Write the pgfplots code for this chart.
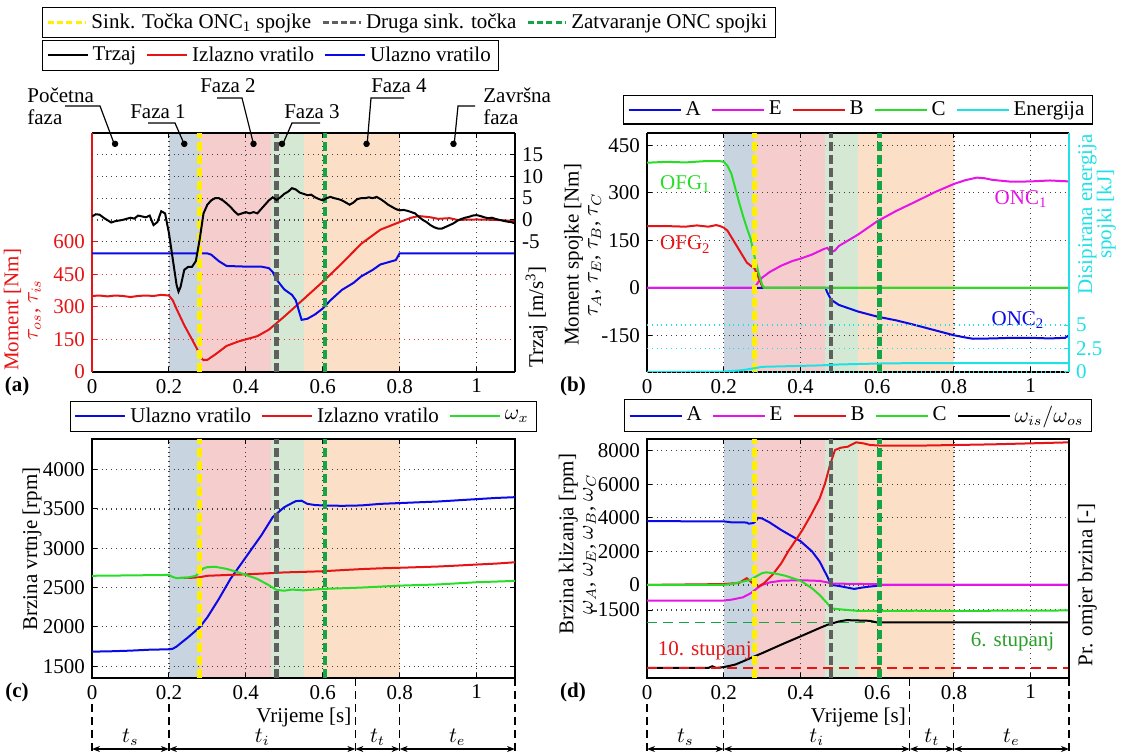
\documentclass[border=0pt]{standalone}
\usepackage{fontspec}
\setmainfont{Liberation Serif}
\usepackage{pgfplots}
\pgfplotsset{compat=1.18}
\usetikzlibrary{arrows.meta}

\definecolor{cBlue}{RGB}{10,10,230}
\definecolor{cRed}{RGB}{230,20,20}
\definecolor{cGreen}{RGB}{40,220,40}
\definecolor{cMag}{RGB}{230,20,230}
\definecolor{cCyan}{RGB}{30,225,230}
\definecolor{cYel}{RGB}{255,240,0}
\definecolor{cGray}{RGB}{95,95,95}
\definecolor{cDGreen}{RGB}{20,165,70}
\definecolor{cTGreen}{RGB}{40,160,40}
\definecolor{ph1}{RGB}{200,213,225}
\definecolor{ph2}{RGB}{245,205,205}
\definecolor{ph3}{RGB}{212,232,212}
\definecolor{ph4}{RGB}{251,224,199}

\newcommand\ff{\fontsize{10.5}{12}\selectfont}
\newcommand\fft{\fontsize{10.5}{9.6}\selectfont}

\pgfplotsset{
  panel/.style={
    scale only axis, xmin=0, xmax=1.1,
    xtick={0,0.2,0.4,0.6,0.8,1},
    scaled ticks=false,
    /pgf/number format/1000 sep={},
    /pgf/number format/assume math mode=true,
    font=\ff,
    tick label style={font=\ff},
    label style={font=\ff},
    tick align=inside, major tick length=2.5pt,
    tick style={black, line width=0.5pt},
    xmajorgrids, ymajorgrids,
    grid style={dotted, line width=0.6pt},
    x grid style={black!75},
    y grid style={black!75},
    axis line style={line width=0.6pt},
    legend columns=-1,
    legend style={draw=black, line width=0.6pt, font=\ff, inner xsep=2pt, inner ysep=1pt,
      /tikz/every even column/.append style={column sep=3pt}},
    legend cell align=left,
  },
  bgpanel/.style={scale only axis, xmin=0, xmax=1.1, hide axis},
  dl/.style={line width=1pt},
  vl/.style={line width=2.2pt, dash pattern=on 4.5pt off 2pt},
  limg/.style={legend image code/.code={\draw[##1, line width=1pt] (0pt,0pt) -- (#1,0pt);}},
  lyl/.style 2 args={ylabel style={at={(axis description cs:#1,#2)}, anchor=south, inner sep=0pt}},
  ryl/.style 2 args={ylabel style={at={(axis description cs:#1,#2)}, anchor=north, inner sep=0pt}},
}

\newcommand\phaseshade[2]{%
  \addplot[draw=none, fill=ph1] coordinates {(0.2,#1) (0.28,#1) (0.28,#2) (0.2,#2)} -- cycle;
  \addplot[draw=none, fill=ph2] coordinates {(0.28,#1) (0.465,#1) (0.465,#2) (0.28,#2)} -- cycle;
  \addplot[draw=none, fill=ph3] coordinates {(0.465,#1) (0.551,#1) (0.551,#2) (0.465,#2)} -- cycle;
  \addplot[draw=none, fill=ph4] coordinates {(0.551,#1) (0.8,#1) (0.8,#2) (0.551,#2)} -- cycle;
}
\newcommand\vlines[2]{%
  \addplot[cYel, vl, forget plot] coordinates {(0.28,#1) (0.28,#2)};
  \addplot[cGray, vl, forget plot] coordinates {(0.48,#1) (0.48,#2)};
  \addplot[cDGreen, vl, forget plot] coordinates {(0.606,#1) (0.606,#2)};
}

\begin{document}
\begin{tikzpicture}
\useasboundingbox (0,0) rectangle (561.5pt,377.5pt);

% ================= (a) =================
\begin{axis}[bgpanel, at={(46pt,191.5pt)}, width=211.5pt, height=119.5pt, ymin=0, ymax=1100]
\phaseshade{0}{1100}
\end{axis}

\begin{axis}[panel, at={(46pt,191.5pt)}, width=211.5pt, height=119.5pt,
  ymin=0, ymax=1100, ytick={0,150,300,450,600},
  axis x line=box, axis y line*=left,
  y axis line style={cRed}, yticklabel style={text=cRed}, ytick style={cRed},
  y grid style={cRed!85},
  ylabel={Moment [Nm]\\$\tau_{os}$, $\tau_{is}$},
  lyl={-0.12}{0.26}, ylabel style={align=center, text=cRed, font=\fft},
  legend image code/.code={\draw[#1, line width=1.4pt, dash pattern=on 3pt off 1.6pt] (0pt,0pt) -- (19pt,0pt);},
  legend style={at={(-0.118,1.527)}, anchor=north west},
]
\addplot[cRed, dl, forget plot] coordinates {(0,350) (0.02,352) (0.04,348) (0.06,352) (0.08,350) (0.1,345) (0.12,350) (0.14,352) (0.16,350) (0.18,355) (0.2,352) (0.21,330) (0.22,290) (0.24,215) (0.26,150) (0.275,100) (0.285,62) (0.29,55) (0.30,56) (0.32,80) (0.35,120) (0.38,140) (0.40,150) (0.43,165) (0.46,195) (0.48,225) (0.50,255) (0.55,335) (0.60,415) (0.65,500) (0.70,590) (0.75,655) (0.80,690) (0.83,710) (0.85,718) (0.88,712) (0.90,705) (0.93,708) (0.95,700) (1.0,702) (1.05,700) (1.1,695)};
\addplot[cBlue, dl, forget plot] coordinates {(0,546) (0.30,546) (0.31,540) (0.33,510) (0.35,488) (0.40,485) (0.44,485) (0.46,478) (0.47,460) (0.48,425) (0.50,380) (0.52,355) (0.53,330) (0.545,240) (0.56,245) (0.58,265) (0.60,292) (0.62,330) (0.65,378) (0.68,410) (0.70,440) (0.73,470) (0.75,495) (0.78,510) (0.79,515) (0.80,546) (1.1,546)};
\addplot[cYel, vl] coordinates {(0.28,0) (0.28,1100)};
\addlegendentry{Sink. Točka ONC\textsubscript{1} spojke}
\addplot[cGray, vl] coordinates {(0.48,0) (0.48,1100)};
\addlegendentry{Druga sink. točka}
\addplot[cDGreen, vl] coordinates {(0.606,0) (0.606,1100)};
\addlegendentry{Zatvaranje ONC spojki}
\addplot[only marks, mark=*, mark size=1.4pt, black, forget plot] coordinates {(0.06,1050) (0.24,1050) (0.42,1050) (0.494,1050) (0.714,1050) (0.94,1050)};
\end{axis}

\begin{axis}[panel, at={(46pt,191.5pt)}, width=211.5pt, height=119.5pt,
  ymin=-35, ymax=20, ytick={-5,0,5,10,15},
  axis x line=none, axis y line*=right, xmajorgrids=false, xtick=\empty,
  ylabel={Trzaj [m/s\textsuperscript{3}]},
  ryl={1.024}{0.23},
  limg=20pt,
  legend style={at={(-0.118,1.389)}, anchor=north west},
]
\addplot[black, dl] coordinates {(0,0.8) (0.01,1.3) (0.02,1.2) (0.03,0.5) (0.05,-0.6) (0.06,-0.3) (0.08,0) (0.1,0.5) (0.11,0.3) (0.12,1) (0.13,0.8) (0.14,0.6) (0.15,1) (0.16,-1.2) (0.17,-0.5) (0.18,2) (0.19,1.5) (0.2,-3) (0.21,-9) (0.22,-15) (0.225,-16.5) (0.23,-15.5) (0.24,-11.5) (0.25,-10.8) (0.26,-10.8) (0.27,-9.5) (0.28,-4.5) (0.29,1.5) (0.30,3.5) (0.31,4.5) (0.32,5) (0.33,5) (0.34,4.5) (0.35,3.8) (0.36,3) (0.37,2) (0.38,1.2) (0.39,1.5) (0.40,1.8) (0.41,1.5) (0.42,1.8) (0.43,1.5) (0.44,2.5) (0.45,3.5) (0.46,4.5) (0.47,5.2) (0.48,4.6) (0.49,5.2) (0.50,6) (0.51,6.5) (0.52,7.3) (0.53,7) (0.54,6.3) (0.55,6) (0.56,5.7) (0.57,5.8) (0.58,5.2) (0.59,4.8) (0.60,4.5) (0.61,5) (0.62,5.3) (0.63,5) (0.64,4.8) (0.65,4.5) (0.66,4) (0.67,3.5) (0.68,4) (0.69,4.8) (0.70,5) (0.71,5) (0.72,5.2) (0.73,5) (0.74,5.3) (0.75,4.8) (0.76,4.2) (0.77,3.5) (0.78,3) (0.79,2.5) (0.80,2.2) (0.81,2.3) (0.82,2.1) (0.83,1.8) (0.84,1.5) (0.85,0.7) (0.86,0) (0.87,-0.5) (0.88,-1.2) (0.89,-1.7) (0.90,-2) (0.91,-2) (0.92,-1.6) (0.93,-1.2) (0.94,-0.8) (0.95,-0.2) (0.96,0.2) (0.97,0.5) (0.98,0.7) (0.99,1) (1.0,1.1) (1.01,0.9) (1.02,0.6) (1.03,0.4) (1.04,0.5) (1.05,0.2) (1.06,0) (1.07,-0.2) (1.08,-0.4) (1.09,-0.5) (1.1,-0.8)};
\addlegendentry{Trzaj}
\addlegendimage{cRed, dl}
\addlegendentry{Izlazno vratilo}
\addlegendimage{cBlue, dl}
\addlegendentry{Ulazno vratilo}
\end{axis}

% ================= (b) =================
\begin{axis}[bgpanel, at={(323.5pt,191.5pt)}, width=211pt, height=119.5pt, ymin=-266, ymax=489]
\phaseshade{-266}{489}
\end{axis}

\begin{axis}[panel, at={(323.5pt,191.5pt)}, width=211pt, height=119.5pt,
  ymin=-266, ymax=489, ytick={-150,0,150,300,450},
  axis x line=box, axis y line*=left,
  ylabel={Moment spojke [Nm]\\$\tau_A$, $\tau_E$, $\tau_B$, $\tau_C$},
  lyl={-0.108}{0.49}, ylabel style={align=center, font=\fft},
  limg=26pt,
  legend style={at={(0.5,1.035)}, anchor=south},
]
\addplot[cBlue, dl] coordinates {(0,0) (0.465,0) (0.47,-15) (0.48,-38) (0.5,-54) (0.55,-75) (0.6,-91) (0.65,-103) (0.7,-118) (0.75,-134) (0.8,-150) (0.83,-157) (0.85,-161) (0.9,-160) (0.95,-158) (1.0,-158) (1.05,-160) (1.09,-158) (1.1,-150)};
\addlegendentry{A}
\addplot[cMag, dl] coordinates {(0,0) (0.28,0) (0.29,18) (0.30,32) (0.32,50) (0.35,70) (0.38,85) (0.40,92) (0.43,105) (0.46,122) (0.47,126) (0.48,112) (0.49,118) (0.50,132) (0.55,168) (0.60,210) (0.65,243) (0.70,272) (0.75,302) (0.80,328) (0.83,340) (0.86,348) (0.88,346) (0.90,341) (0.95,335) (1.0,336) (1.05,339) (1.1,336)};
\addlegendentry{E}
\addplot[cRed, dl] coordinates {(0,195) (0.05,195) (0.1,193) (0.13,197) (0.16,193) (0.18,198) (0.19,195) (0.2,190) (0.21,180) (0.22,160) (0.23,140) (0.24,120) (0.25,100) (0.26,80) (0.27,70) (0.28,62) (0.29,35) (0.3,5) (0.305,0) (1.1,0)};
\addlegendentry{B}
\addplot[cGreen, dl] coordinates {(0,395) (0.05,398) (0.1,396) (0.15,400) (0.19,400) (0.2,398) (0.21,385) (0.22,360) (0.23,315) (0.24,270) (0.25,228) (0.26,190) (0.27,155) (0.28,100) (0.29,50) (0.3,10) (0.305,0) (1.1,0)};
\addlegendentry{C}
\addlegendimage{cCyan, dl}
\addlegendentry{Energija}
\vlines{-266}{489}
\node[text=cGreen, font=\ff] at (axis cs:0.1,328) {OFG\textsubscript{1}};
\node[text=cRed, font=\ff] at (axis cs:0.1,137) {OFG\textsubscript{2}};
\node[text=cMag, font=\ff] at (axis cs:0.975,280) {ONC\textsubscript{1}};
\node[text=cBlue, font=\ff] at (axis cs:0.967,-102) {ONC\textsubscript{2}};
\end{axis}

\begin{axis}[panel, at={(323.5pt,191.5pt)}, width=211pt, height=119.5pt,
  ymin=0, ymax=25.43, ytick={0,2.5,5},
  axis x line=none, axis y line*=right, xmajorgrids=false, xtick=\empty,
  y axis line style={cCyan}, yticklabel style={text=cCyan}, ytick style={cCyan},
  y grid style={cCyan},
  ylabel={Disipirana energija\\spojki [kJ]},
  ryl={1.021}{0.66}, ylabel style={align=center, text=cCyan, font=\fft},
]
\addplot[cCyan, dl] coordinates {(0,0) (0.2,0.05) (0.22,0.1) (0.25,0.2) (0.28,0.4) (0.3,0.55) (0.35,0.6) (0.4,0.65) (0.45,0.7) (0.5,0.8) (0.55,0.85) (0.6,0.9) (0.7,0.95) (0.8,0.95) (0.9,0.95) (1.0,0.95) (1.1,0.95)};
\end{axis}

% ================= (c) =================
\begin{axis}[bgpanel, at={(46pt,38.5pt)}, width=211.5pt, height=119.5pt, ymin=1350, ymax=4390]
\phaseshade{1350}{4390}
\end{axis}

\begin{axis}[panel, at={(46pt,38.5pt)}, width=211.5pt, height=119.5pt,
  ymin=1350, ymax=4390, ytick={1500,2000,2500,3000,3500,4000},
  ylabel={Brzina vrtnje [rpm]},
  lyl={-0.118}{0.54},
  xlabel={Vrijeme [s]},
  xlabel style={at={(axis description cs:0.501,-0.167)}, anchor=center},
  limg=25pt,
  legend style={at={(0.5,1.03)}, anchor=south},
]
\addplot[cBlue, dl] coordinates {(0,1685) (0.05,1690) (0.1,1698) (0.15,1710) (0.2,1715) (0.21,1722) (0.22,1750) (0.23,1790) (0.25,1868) (0.28,1995) (0.30,2122) (0.33,2356) (0.36,2610) (0.40,2886) (0.44,3162) (0.47,3396) (0.50,3523) (0.53,3600) (0.545,3605) (0.56,3565) (0.58,3550) (0.6,3545) (0.65,3540) (0.7,3545) (0.75,3565) (0.8,3575) (0.9,3595) (1.0,3625) (1.05,3640) (1.1,3650)};
\addlegendentry{Ulazno vratilo}
\addplot[cRed, dl] coordinates {(0.23,2623) (0.26,2625) (0.28,2632) (0.3,2650) (0.35,2660) (0.4,2668) (0.45,2680) (0.5,2693) (0.55,2700) (0.6,2708) (0.65,2722) (0.7,2735) (0.75,2745) (0.8,2752) (0.85,2760) (0.9,2768) (0.95,2780) (1.0,2793) (1.05,2805) (1.1,2822)};
\addlegendentry{Izlazno vratilo}
\addplot[cGreen, dl] coordinates {(0,2650) (0.1,2655) (0.2,2661) (0.21,2635) (0.22,2620) (0.25,2628) (0.27,2650) (0.28,2700) (0.29,2745) (0.30,2760) (0.32,2765) (0.35,2738) (0.38,2695) (0.40,2661) (0.43,2610) (0.46,2530) (0.48,2470) (0.50,2460) (0.52,2475) (0.55,2465) (0.6,2483) (0.7,2500) (0.8,2525) (0.9,2540) (1.0,2568) (1.1,2585)};
\addlegendentry{$\omega_x$}
\vlines{1350}{4390}
\end{axis}

% ================= (d) =================
\begin{axis}[bgpanel, at={(323.5pt,38.5pt)}, width=211pt, height=119.5pt, ymin=-5550, ymax=8700]
\phaseshade{-5550}{8700}
\end{axis}

\begin{axis}[panel, at={(323.5pt,38.5pt)}, width=211pt, height=119.5pt,
  ymin=-5550, ymax=8700, ytick={-1500,0,2000,4000,6000,8000},
  ytick pos=left,
  ylabel={Brzina klizanja [rpm]\\$\omega_A$, $\omega_E$, $\omega_B$, $\omega_C$},
  lyl={-0.12}{0.56}, ylabel style={align=center, font=\fft},
  xlabel={Vrijeme [s]},
  xlabel style={at={(axis description cs:0.501,-0.167)}, anchor=center},
  limg=26pt,
  legend style={at={(0.5,1.03)}, anchor=south},
]
\addplot[cBlue, dl] coordinates {(0,3800) (0.2,3790) (0.22,3730) (0.26,3720) (0.265,3650) (0.275,3680) (0.28,3720) (0.29,4000) (0.30,3960) (0.32,3720) (0.35,3270) (0.40,2610) (0.43,2000) (0.45,1390) (0.47,500) (0.48,0) (0.50,-60) (0.52,-150) (0.54,-240) (0.56,-160) (0.58,-100) (0.6,-50) (0.61,0) (1.1,0)};
\addlegendentry{A}
\addplot[cMag, dl] coordinates {(0,-930) (0.2,-930) (0.22,-880) (0.25,-740) (0.27,-500) (0.29,-150) (0.30,0) (0.32,150) (0.35,250) (0.40,280) (0.45,240) (0.47,150) (0.48,80) (0.55,60) (0.6,40) (0.61,0) (1.1,0)};
\addlegendentry{E}
\addplot[cRed, dl] coordinates {(0,0) (0.2,50) (0.24,120) (0.26,400) (0.27,200) (0.28,0) (0.29,-100) (0.305,100) (0.327,600) (0.35,1290) (0.368,2000) (0.386,2610) (0.405,3270) (0.427,4150) (0.45,5150) (0.464,6050) (0.477,7150) (0.49,8040) (0.505,8180) (0.523,8240) (0.545,8500) (0.564,8440) (0.582,8340) (0.614,8300) (0.7,8300) (0.8,8340) (0.9,8380) (1.0,8440) (1.1,8500)};
\addlegendentry{B}
\addplot[cGreen, dl] coordinates {(0,0) (0.2,0) (0.22,50) (0.25,200) (0.27,300) (0.28,450) (0.30,700) (0.31,750) (0.33,700) (0.36,550) (0.40,250) (0.43,-200) (0.45,-600) (0.47,-1100) (0.48,-1400) (0.50,-1450) (0.55,-1550) (0.6,-1550) (0.7,-1540) (0.8,-1550) (0.9,-1540) (1.0,-1540) (1.1,-1520)};
\addlegendentry{C}
\addplot[cDGreen, line width=0.8pt, dash pattern=on 5pt off 3pt, forget plot] coordinates {(0,-2240) (1.1,-2240)};
\addplot[black, dl] coordinates {(0,-4950) (0.16,-4950) (0.17,-4850) (0.18,-4950) (0.2,-4900) (0.23,-4750) (0.25,-4560) (0.28,-4260) (0.3,-4070) (0.35,-3560) (0.4,-3070) (0.45,-2570) (0.47,-2380) (0.5,-2180) (0.52,-2100) (0.55,-2120) (0.58,-2140) (0.6,-2240) (0.62,-2240) (1.1,-2240)};
\addlegendentry{$\omega_{is}/\omega_{os}$}
\addplot[cRed, line width=0.8pt, dash pattern=on 5pt off 3pt, forget plot] coordinates {(0,-4950) (1.1,-4950)};
\vlines{-5550}{8700}
\node[text=cRed, font=\ff, anchor=west] at (axis cs:0.01,-3950) {10. stupanj};
\node[text=cTGreen, font=\ff, anchor=east] at (axis cs:1.08,-3370) {6. stupanj};
\end{axis}

\begin{axis}[panel, at={(323.5pt,38.5pt)}, width=211pt, height=119.5pt,
  ymin=0, ymax=1, ytick=\empty,
  axis x line=none, axis y line*=right, xmajorgrids=false, ymajorgrids=false, xtick=\empty,
  ylabel={Pr. omjer brzina [-]},
  ryl={1.02}{0.39},
]
\end{axis}

% ================= annotations (pixel units) =================
\begin{scope}[x=0.5pt, y=-0.5pt, shift={(0pt,377.5pt)}, font=\ff]
  % phase labels
  \node[anchor=west, align=left, inner sep=0pt, font=\fontsize{10.5}{11}\selectfont] at (27,106) {Početna\\faza};
  \draw[line width=0.6pt] (65,106) -- (100,106) -- (115,146);
  \node[inner sep=0pt] at (158,112) {Faza 1};
  \draw[line width=0.6pt] (148,123) -- (175,123) -- (185,146);
  \node[inner sep=0pt] at (228,86) {Faza 2};
  \draw[line width=0.6pt] (217,98) -- (242,98) -- (254,146);
  \node[inner sep=0pt] at (312,112) {Faza 3};
  \draw[line width=0.6pt] (320,123) -- (292,123) -- (282,146);
  \node[inner sep=0pt] at (399,86) {Faza 4};
  \draw[line width=0.6pt] (404,98) -- (371,98) -- (367,146);
  \node[anchor=west, align=left, inner sep=0pt, font=\fontsize{10.5}{11}\selectfont] at (483,106) {Završna\\faza};
  \draw[line width=0.6pt] (475,106) -- (458,106) -- (454,146);
  % panel letters
  \node[font=\ff\bfseries] at (17,386) {(a)};
  \node[font=\ff\bfseries] at (573,386) {(b)};
  \node[font=\ff\bfseries] at (17,692) {(c)};
  \node[font=\ff\bfseries] at (573,692) {(d)};
  % timelines
  \foreach \xo/\sc in {92/384.5,647/383.6} {
    \begin{scope}[xshift=\xo*0.5pt]
      \foreach \t in {0,0.2,0.8} {
        \draw[line width=0.6pt, dash pattern=on 4pt off 2.5pt] ({\t*\sc},704) -- ({\t*\sc},755);
      }
      \foreach \t in {0.685,1.1} {
        \draw[line width=0.6pt, dash pattern=on 4pt off 2.5pt] ({\t*\sc},678) -- ({\t*\sc},755);
      }
      \draw[line width=0.6pt, {Stealth[length=4pt,width=3pt]}-{Stealth[length=4pt,width=3pt]}] (0,749) -- ({0.2*\sc},749);
      \draw[line width=0.6pt, {Stealth[length=4pt,width=3pt]}-{Stealth[length=4pt,width=3pt]}] ({0.2*\sc},749) -- ({0.685*\sc},749);
      \draw[line width=0.6pt, {Stealth[length=4pt,width=3pt]}-{Stealth[length=4pt,width=3pt]}] ({0.685*\sc},749) -- ({0.8*\sc},749);
      \draw[line width=0.6pt, {Stealth[length=4pt,width=3pt]}-{Stealth[length=4pt,width=3pt]}] ({0.8*\sc},749) -- ({1.1*\sc},749);
      \node[inner sep=1pt] at ({0.1*\sc},737) {$t_s$};
      \node[inner sep=1pt] at ({0.4425*\sc},737) {$t_i$};
      \node[inner sep=1pt] at ({0.7425*\sc},737) {$t_t$};
      \node[inner sep=1pt] at ({0.95*\sc},737) {$t_e$};
    \end{scope}
  }
\end{scope}
\end{tikzpicture}
\end{document}
